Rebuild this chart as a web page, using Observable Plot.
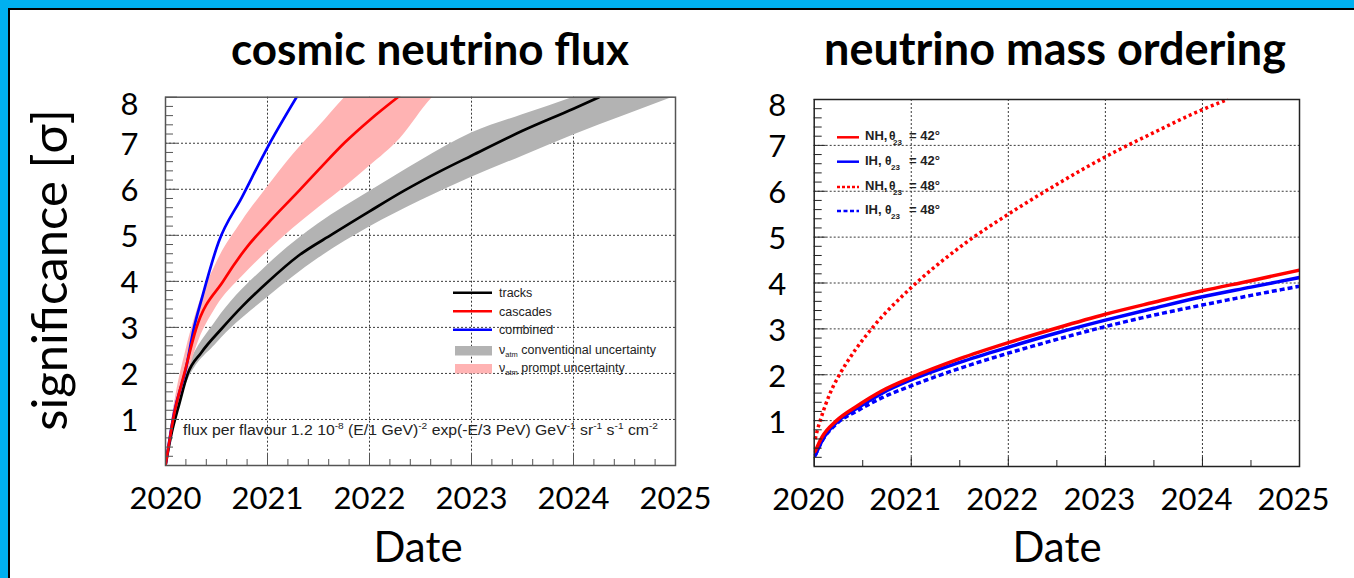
<!DOCTYPE html>
<html><head><meta charset="utf-8">
<script src="https://cdn.jsdelivr.net/npm/d3@7"></script>
<script src="https://cdn.jsdelivr.net/npm/@observablehq/plot@0.6"></script>
<style>
html,body{margin:0;padding:0;background:#fff;}
#page{position:relative;width:1354px;height:578px;overflow:hidden;background:#fff;}
#blue{position:absolute;left:0;top:0;width:1400px;height:600px;box-sizing:border-box;border-left:8px solid #00B0F0;border-top:8px solid #00B0F0;}
#black{position:absolute;left:8px;top:8px;width:1400px;height:600px;box-sizing:border-box;border:2px solid #000;}
.plot{position:absolute;top:0;}
#overlay{position:absolute;left:0;top:0;}
</style></head><body>
<div id="page">
<div id="blue"></div><div id="black"></div>
<div id="leftPlot" class="plot" style="left:0"></div>
<div id="rightPlot" class="plot" style="left:700px"></div>
<svg id="overlay" width="1354" height="578"></svg>
</div>
<script>
// ---------- data: cosmic neutrino flux (left) ----------
const yearTicks = [2020, 2021, 2022, 2023, 2024, 2025];
const sigmaTicks = [1, 2, 3, 4, 5, 6, 7, 8];

const tracksYear  = [2020.0, 2020.05, 2020.135, 2020.218, 2020.35, 2020.55, 2020.75, 2021.0, 2021.3, 2021.64, 2022.0, 2022.34, 2022.7, 2023.0, 2023.5, 2024.0, 2024.25];
const tracksSigma = [0, 0.6, 1.34, 1.99, 2.45, 2.97, 3.45, 3.98, 4.55, 5.03, 5.52, 5.97, 6.4, 6.73, 7.27, 7.75, 8.0];

const cascYear  = [2020.0, 2020.085, 2020.185, 2020.3, 2020.57, 2020.8, 2021.0, 2021.31, 2021.5, 2021.76, 2022.0, 2022.29];
const cascSigma = [0, 1.12, 2.0, 2.97, 4.02, 4.75, 5.25, 5.97, 6.42, 7.02, 7.5, 8.02];

const combYear  = [2020.0, 2020.085, 2020.2, 2020.28, 2020.35, 2020.52, 2020.75, 2021.01, 2021.29];
const combSigma = [0, 1.15, 2.1, 3.0, 3.58, 4.85, 5.83, 6.95, 8.02];

const convYear = [2020.0, 2020.1, 2020.22, 2020.5, 2021.0, 2021.5, 2022.0, 2022.5, 2023.0, 2023.5, 2024.0, 2024.5, 2025.0];
const convLow  = [0, 1.15, 1.85, 2.65, 3.65, 4.5, 5.18, 5.75, 6.26, 6.72, 7.18, 7.6, 8.02];
const convHigh = [0, 1.45, 2.15, 3.15, 4.35, 5.25, 5.95, 6.62, 7.22, 7.62, 8.0, 8.45, 8.9];

const promptYear = [2020.0, 2020.1, 2020.2, 2020.3, 2020.5, 2020.75, 2021.0, 2021.25, 2021.5, 2021.76, 2022.0, 2022.3, 2022.62, 2023.0];
const promptLow  = [0, 0.95, 1.8, 2.55, 3.45, 4.1, 4.65, 5.15, 5.6, 6.05, 6.5, 7.1, 8.0, 8.6];
const promptHigh = [0, 1.5, 2.5, 3.3, 4.4, 5.3, 6.05, 6.75, 7.35, 8.0, 8.5, 9.0, 9.5, 10.0];

// ---------- data: neutrino mass ordering (right) ----------
const nhYear   = [2020.01, 2020.08, 2020.23, 2020.45, 2020.7, 2021.0, 2021.5, 2022.0, 2022.5, 2023.0, 2023.5, 2024.0, 2024.5, 2025.0];
const nh42     = [0.33, 0.64, 1.0, 1.33, 1.65, 1.94, 2.35, 2.70, 3.02, 3.32, 3.58, 3.83, 4.05, 4.28];
const ih42     = [0.24, 0.56, 0.96, 1.28, 1.6, 1.89, 2.27, 2.60, 2.91, 3.19, 3.45, 3.70, 3.91, 4.12];
const ih48     = [0.24, 0.55, 0.93, 1.22, 1.5, 1.76, 2.14, 2.47, 2.77, 3.05, 3.30, 3.52, 3.73, 3.93];
const nh48Year = [2020.01, 2020.04, 2020.08, 2020.16, 2020.26, 2020.4, 2020.61, 2021.0, 2021.5, 2022.0, 2022.5, 2023.0, 2023.5, 2024.0, 2024.26];
const nh48     = [0.6, 0.85, 1.12, 1.58, 2.0, 2.47, 3.05, 3.9, 4.78, 5.5, 6.15, 6.75, 7.28, 7.78, 8.0];

const leftLegend = ["tracks", "cascades", "combined", "conventional uncertainty", "prompt uncertainty"];
const rightLegend = ["NH,", "IH,", "NH,", "IH,"];
const rightLegendAngle = ["42°", "42°", "48°", "48°"];

// ---------- helpers ----------
const pts = (xs, ys) => xs.map((x, i) => ({x, y: ys[i]}));
const band = (xs, lo, hi) => xs.map((x, i) => ({x, lo: lo[i], hi: hi[i]}));
const FONT = "Lato, 'Open Sans', sans-serif";
const gridStyle = {stroke: "#3a3a3a", strokeOpacity: 1, strokeWidth: 1, strokeDasharray: "2,2"};
const inner = yearTicks.slice(1, -1);
const innerY = sigmaTicks.slice(0, -1);
const minor = (a, b, step, skip) => d3.range(a, b + 1e-9, step).map(v => +v.toFixed(3)).filter(v => !skip.some(s => Math.abs(s - v) < 1e-6));

// drawing-only curve: the monotone curve, written out as short straight segments
function flatCurve(factory, n = 16) {
  return (context) => {
    let x0 = 0, y0 = 0;
    const proxy = {
      moveTo(x, y) { context.moveTo(x, y); x0 = x; y0 = y; },
      lineTo(x, y) { context.lineTo(x, y); x0 = x; y0 = y; },
      bezierCurveTo(x1, y1, x2, y2, x, y) {
        for (let i = 1; i <= n; i++) {
          const t = i / n, m = 1 - t;
          context.lineTo(m*m*m*x0 + 3*m*m*t*x1 + 3*m*t*t*x2 + t*t*t*x,
                         m*m*m*y0 + 3*m*m*t*y1 + 3*m*t*t*y2 + t*t*t*y);
        }
        x0 = x; y0 = y;
      },
      closePath() { context.closePath(); }
    };
    return factory(proxy);
  };
}
const smoothFlat = flatCurve(d3.curveMonotoneX);

// ---------- left plot ----------
const leftSvg = Plot.plot({
  width: 700, height: 578,
  marginLeft: 165, marginRight: 25, marginTop: 96.7, marginBottom: 113,
  style: {background: "transparent", overflow: "visible", fontFamily: FONT, color: "#000"},
  x: {domain: [2020, 2025], label: null},
  y: {domain: [0, 8], label: null},
  marks: [
    Plot.gridX(inner, gridStyle),
    Plot.gridY(innerY, gridStyle),
    Plot.areaY(band(convYear, convLow, convHigh), {x: "x", y1: "lo", y2: "hi", fill: "#b3b3b3", curve: "monotone-x", clip: true}),
    Plot.areaY(band(promptYear, promptLow, promptHigh), {x: "x", y1: "lo", y2: "hi", fill: "#ffb3b3", curve: "monotone-x", clip: true}),
    Plot.line(pts(tracksYear, tracksSigma), {x: "x", y: "y", stroke: "#000", strokeWidth: 2.7, curve: "monotone-x", clip: true}),
    Plot.line(pts(combYear, combSigma), {x: "x", y: "y", stroke: "#0000ff", strokeWidth: 2.7, curve: "monotone-x", clip: true}),
    Plot.line(pts(cascYear, cascSigma), {x: "x", y: "y", stroke: "#ff0000", strokeWidth: 2.7, curve: "monotone-x", clip: true}),
    Plot.axisY({ticks: minor(0, 8, 0.2, [0,1,2,3,4,5,6,7,8]), tickSize: -8, fill: "none", label: null, stroke: "#555"}),
    Plot.axisY({ticks: sigmaTicks, tickSize: -12, fill: "none", label: null, stroke: "#555"}),
    Plot.axisX({ticks: minor(2020, 2025, 0.2, yearTicks), tickSize: -6, fill: "none", label: null, stroke: "#555"}),
    Plot.axisX({ticks: yearTicks, tickSize: -12, fill: "none", label: null, stroke: "#555"}),
    Plot.frame({stroke: "#555", strokeWidth: 1.5}),
    Plot.axisY({ticks: sigmaTicks.slice(0, -1), tickSize: 0, tickPadding: 27, label: null, fontSize: 31, fontFamily: FONT, fill: "#000", dy: 2}),
    Plot.axisY({ticks: [8], tickSize: 0, tickPadding: 27, label: null, fontSize: 31, fontFamily: FONT, fill: "#000", dy: 8}),
    Plot.axisX({ticks: yearTicks, tickSize: 0, tickPadding: 21, label: null, fontSize: 31, fontFamily: FONT, fill: "#000", tickFormat: d => String(d)})
  ]
});
document.getElementById("leftPlot").appendChild(leftSvg);

// ---------- right plot ----------
const rightSvg = Plot.plot({
  width: 654, height: 578,
  marginLeft: 113.7, marginRight: 55, marginTop: 99, marginBottom: 112,
  style: {background: "transparent", overflow: "visible", fontFamily: FONT, color: "#000"},
  x: {domain: [2020, 2025], label: null},
  y: {domain: [0, 8], label: null},
  marks: [
    Plot.gridX(inner, gridStyle),
    Plot.gridY(innerY, gridStyle),
    Plot.line(pts(nhYear, ih48), {x: "x", y: "y", stroke: "#0000ff", strokeWidth: 3.5, strokeDasharray: "5 3", strokeLinecap: "butt", curve: smoothFlat}),
    Plot.line(pts(nhYear, ih42), {x: "x", y: "y", stroke: "#0000ff", strokeWidth: 3.5, curve: "monotone-x", clip: true}),
    Plot.line(pts(nhYear, nh42), {x: "x", y: "y", stroke: "#ff0000", strokeWidth: 3.5, curve: "monotone-x", clip: true}),
    Plot.line(pts(nh48Year, nh48), {x: "x", y: "y", stroke: "#ff0000", strokeWidth: 3.5, strokeDasharray: "3 3", strokeLinecap: "butt", curve: smoothFlat}),
    Plot.axisY({ticks: minor(0, 8, 0.2, [0,1,2,3,4,5,6,7,8]), tickSize: -8, fill: "none", label: null, stroke: "#222"}),
    Plot.axisY({ticks: sigmaTicks, tickSize: -12, fill: "none", label: null, stroke: "#222"}),
    Plot.axisX({ticks: minor(2020, 2025, 0.5, yearTicks), tickSize: -6, fill: "none", label: null, stroke: "#222"}),
    Plot.axisX({ticks: yearTicks, tickSize: -9, fill: "none", label: null, stroke: "#222"}),
    Plot.frame({stroke: "#222", strokeWidth: 1.5}),
    Plot.axisY({ticks: sigmaTicks.slice(0, -1), tickSize: 0, tickPadding: 28, label: null, fontSize: 31, fontFamily: FONT, fill: "#000", dy: 2}),
    Plot.axisY({ticks: [8], tickSize: 0, tickPadding: 28, label: null, fontSize: 31, fontFamily: FONT, fill: "#000", dy: 7}),
    Plot.axisX({ticks: yearTicks, tickSize: 0, tickPadding: 21, label: null, fontSize: 31, fontFamily: FONT, fill: "#000", dx: -6, tickFormat: d => String(d)})
  ]
});
document.getElementById("rightPlot").appendChild(rightSvg);

// ---------- overlay texts and legends ----------
const ov = d3.select("#overlay");
ov.append("text").attr("x", 430).attr("y", 65).attr("text-anchor", "middle")
  .attr("font-family", FONT).attr("font-weight", 700).attr("font-size", 44).text("cosmic neutrino flux");
ov.append("text").attr("x", 1055).attr("y", 65).attr("text-anchor", "middle")
  .attr("font-family", FONT).attr("font-weight", 700).attr("font-size", 45).text("neutrino mass ordering");
ov.append("text").attr("x", 418).attr("y", 562).attr("text-anchor", "middle")
  .attr("font-family", FONT).attr("font-size", 42).text("Date");
ov.append("text").attr("x", 1057).attr("y", 562).attr("text-anchor", "middle")
  .attr("font-family", FONT).attr("font-size", 42).text("Date");
ov.append("text").attr("transform", "translate(67,270) rotate(-90)").attr("text-anchor", "middle")
  .attr("font-family", FONT).attr("font-size", 49).text("significance [σ]");

// flux annotation
const LF = "'Liberation Sans', Arial, sans-serif";
const ann = ov.append("text").attr("x", 183).attr("y", 435).attr("font-family", LF).attr("font-size", 14).attr("fill", "#222")
  .attr("textLength", 475).attr("lengthAdjust", "spacingAndGlyphs");
const annParts = [["flux per flavour 1.2 10", false], ["-8", true], [" (E/1 GeV)", false], ["-2", true], [" exp(-E/3 PeV) GeV", false], ["-1", true], [" sr", false], ["-1", true], [" s", false], ["-1", true], [" cm", false], ["-2", true]];
let sup = false;
annParts.forEach(([t, s]) => {
  const ts = ann.append("tspan").text(t);
  if (s && !sup) { ts.attr("dy", -6).attr("font-size", 9); sup = true; }
  else if (s) { ts.attr("font-size", 9); }
  else if (!s && sup) { ts.attr("dy", 6); sup = false; }
});

// left legend
const lgY = [292.7, 311.3, 329.8];
const lgC = ["#000", "#ff0000", "#0000ff"];
lgY.forEach((y, i) => {
  ov.append("line").attr("x1", 453).attr("x2", 492).attr("y1", y).attr("y2", y).attr("stroke", lgC[i]).attr("stroke-width", 2.5);
  ov.append("text").attr("x", 499).attr("y", y + 4.3).attr("font-family", LF).attr("font-size", 12.5).attr("fill", "#222").text(leftLegend[i]);
});
[[346, "#b3b3b3", 3], [364, "#ffb3b3", 4]].forEach(([y, c, i]) => {
  ov.append("rect").attr("x", 455).attr("y", y).attr("width", 37).attr("height", 9.5).attr("fill", c);
  const t = ov.append("text").attr("x", 499).attr("y", y + 7.5).attr("font-family", LF).attr("font-size", 12.5).attr("fill", "#222");
  t.append("tspan").text("ν");
  t.append("tspan").attr("dy", 3.5).attr("font-size", 7.5).text("atm");
  t.append("tspan").attr("dy", -3.5).text(" " + leftLegend[i]);
});

// right legend
const rgY = [137.3, 161.7, 187, 211];
const rgC = ["#ff0000", "#0000ff", "#ff0000", "#0000ff"];
const rgD = [null, null, "3,2", "4,2.5"];
rgY.forEach((y, i) => {
  const l = ov.append("line").attr("x1", 837).attr("x2", 859).attr("y1", y).attr("y2", y).attr("stroke", rgC[i]).attr("stroke-width", 2.5);
  if (rgD[i]) l.attr("stroke-dasharray", rgD[i]);
  const base = y + 3;
  ov.append("text").attr("x", 865).attr("y", base).attr("font-family", LF).attr("font-weight", 700).attr("font-size", 13).attr("fill", "#222").text(rightLegend[i]);
  ov.append("text").attr("x", i % 2 === 0 ? 889 : 885).attr("y", base).attr("font-family", LF).attr("font-weight", 700).attr("font-size", 12).attr("fill", "#222").text("θ");
  ov.append("text").attr("x", i % 2 === 0 ? 893 : 891).attr("y", base + 5).attr("font-family", LF).attr("font-weight", 700).attr("font-size", 8).attr("fill", "#222").text("23");
  ov.append("text").attr("x", 909).attr("y", base).attr("font-family", LF).attr("font-weight", 700).attr("font-size", 13).attr("fill", "#222").text("= " + rightLegendAngle[i]);
});
</script>
</body></html>
